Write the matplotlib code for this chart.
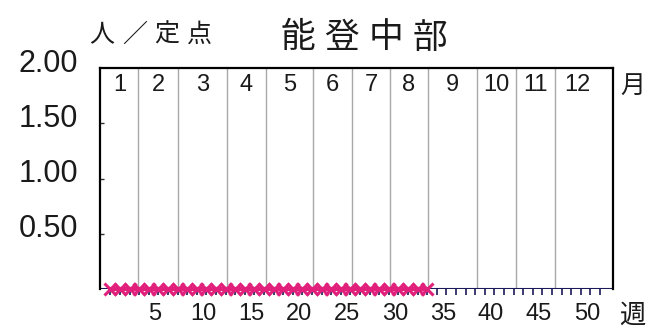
import numpy as np
import matplotlib
matplotlib.use('Agg')
import matplotlib.pyplot as plt
import matplotlib.transforms as mtransforms

plt.rcParams['font.family'] = ['Liberation Sans', 'DejaVu Sans']
cjk = ['Noto Sans CJK JP', 'DejaVu Sans']

# data
title = '能登中部'
unit_label = '人／定点'
weeks = np.arange(1, 35)
values = np.zeros(len(weeks))          # 定点当たり報告数 (週1-34)
all_weeks = np.arange(1, 53)
week_labels = [5, 10, 15, 20, 25, 30, 35, 40, 45, 50]
month_labels = [str(m) for m in range(1, 13)]
month_edges = [0, 3.9, 8.05, 13.15, 17.2, 22.1, 26.2, 30.1, 34.1, 39.2, 43.25, 47.3, 52]
y_ticks = [0.5, 1.0, 1.5, 2.0]

W, H = 651, 329
fig = plt.figure(figsize=(W / 100, H / 100), dpi=100)
ax = fig.add_axes([100 / W, (H - 289) / H, 513 / W, 221 / H])
ax.set_xlim(-0.08, 53.35)
ax.set_ylim(0, 2.0)

# month separators
for e in month_edges[1:-1]:
    ax.axvline(e, color='#a8a8a8', lw=1, zorder=1)

# month numbers
for i, m in enumerate(month_labels):
    c = (month_edges[i] + month_edges[i + 1]) / 2
    ax.text(c, 1.845, m, ha='center', va='center', fontsize=17, color='#1a1a1a')

# week axis line + ticks (navy)
ax.axhline(0, color='#1a1a5a', lw=1.5, zorder=2)
ax.set_xticks(all_weeks)
ax.set_xticklabels([])
ax.tick_params(axis='x', direction='out', length=4, width=1.2, color='#1a1a5a')

# weekly labels (slightly right of their ticks, like the original)
trans = mtransforms.blended_transform_factory(ax.transData, ax.transAxes)
for w in week_labels:
    ax.text(w + 0.65, -0.113, str(w), transform=trans, ha='center', va='center',
            fontsize=17, color='#1a1a1a', clip_on=False)

# y ticks
ax.set_yticks(y_ticks[:-1])
ax.set_yticklabels([])
ax.tick_params(axis='y', direction='in', length=3, width=1, color='#303030')
ytrans = mtransforms.blended_transform_factory(ax.transAxes, ax.transData)
for v in y_ticks:
    ax.text(-0.043, v + 0.04, '%.2f' % v, transform=ytrans,
            ha='right', va='center', fontsize=22, color='#1a1a1a', clip_on=False)

# series
ax.plot(weeks, values, color='#e0207a', lw=3, marker='x', markersize=8,
        markeredgewidth=2.2, zorder=4, clip_on=False)

for s in ['top', 'right', 'left']:
    ax.spines[s].set_color('black')
    ax.spines[s].set_linewidth(1.6)
ax.spines['bottom'].set_visible(False)

# titles / units
for i, ch in enumerate(title):
    fig.text((298 + 44 * i) / W, 1 - 38 / H, ch, family=cjk, fontsize=25,
             ha='center', va='center', color='#1a1a1a')
for i, ch in enumerate(unit_label):
    fig.text((102 + 32.5 * i) / W, 1 - 35 / H, ch, family=cjk, fontsize=18,
             ha='center', va='center', color='#1a1a1a')
fig.text(633 / W, 1 - 86 / H, '月', family=cjk, fontsize=18, ha='center', va='center', color='#1a1a1a')
fig.text(632 / W, 1 - 315 / H, '週', family=cjk, fontsize=19, ha='center', va='center', color='#1a1a1a')

fig.savefig('out.png', dpi=100, facecolor='white')
